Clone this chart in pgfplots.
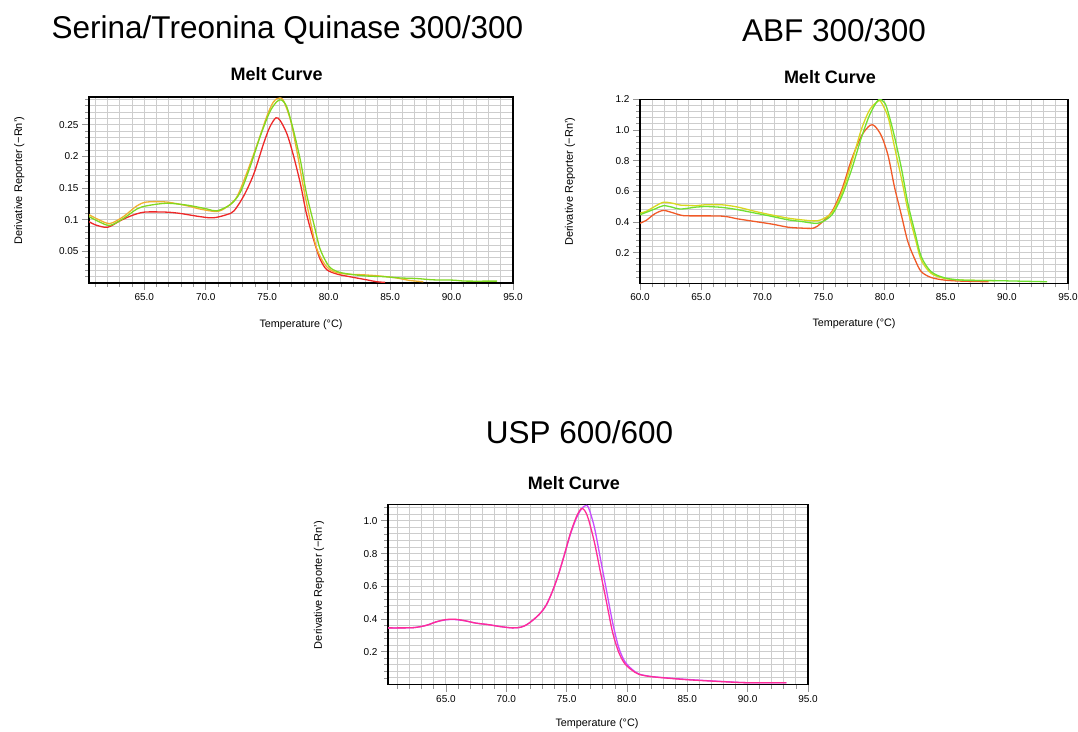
\documentclass[border=0pt]{standalone}
\usepackage{fontspec}
\setmainfont{Liberation Sans}
\usepackage{pgfplots}
\pgfplotsset{compat=1.18}

\definecolor{gridc}{RGB}{205,205,205}
\definecolor{tickc}{RGB}{150,150,150}
\definecolor{mRed}{RGB}{238,40,40}
\definecolor{mOrange}{RGB}{240,178,48}
\definecolor{mGreen}{RGB}{128,216,32}
\definecolor{aRed}{RGB}{240,90,40}
\definecolor{aYellow}{RGB}{216,216,32}
\definecolor{aGreen}{RGB}{112,224,48}
\definecolor{uPink}{RGB}{255,45,150}
\definecolor{uViolet}{RGB}{200,76,255}

\pgfplotsset{
 meltaxis/.style={
  scale only axis, anchor=south west,
  axis line style={black,line width=1.2pt},
  grid=both,
  major grid style={gridc,line width=1pt},
  minor grid style={gridc,line width=1pt},
  tick align=outside, tick pos=left,
  major tick length=7pt, minor tick length=4pt,
  every tick/.style={tickc,line width=0.8pt},
  tick label style={font=\fontsize{10}{12}\selectfont},
  every axis plot/.append style={line width=1.3pt,smooth},
 },
}

\begin{document}
\begin{tikzpicture}
\path[use as bounding box] (0,0) rectangle (1078pt,731pt);

% Serina/Treonina Quinase
\begin{axis}[meltaxis,
 at={(89pt,448pt)},width=424pt,height=186pt,
 xmin=60.5,xmax=95,ymin=0,ymax=0.294,
 xtick={65,70,75,80,85,90,95},
 xticklabels={65.0,70.0,75.0,80.0,85.0,90.0,95.0},
 minor xtick={61,62,...,94},
 ytick={0.05,0.1,0.15,0.2,0.25},
 yticklabels={0.05,0.1,0.15,0.2,0.25},
 minor ytick={0.01,0.02,...,0.29},
]
\addplot[mRed] coordinates {
 (60.5,0.097) (61.0,0.092) (62.0,0.088) (63.0,0.098) (63.9,0.106) (65.0,0.112)
 (66.8,0.112) (67.9,0.110) (69.5,0.105) (70.6,0.103) (71.7,0.108) (72.3,0.114)
 (73.1,0.138) (73.9,0.172) (74.7,0.220) (75.2,0.246) (75.7,0.261) (76.05,0.257)
 (76.6,0.236) (77.1,0.204) (77.7,0.157) (78.2,0.109) (78.8,0.067) (79.3,0.038)
 (79.85,0.021) (80.7,0.014) (81.7,0.010) (83.1,0.005) (83.9,0.002) (84.6,0.001)
};
\addplot[mOrange] coordinates {
 (60.5,0.108) (61.3,0.100) (62.2,0.094) (63.3,0.105) (64.4,0.122) (65.2,0.128)
 (66.8,0.128) (68.5,0.122) (69.5,0.117) (70.9,0.113) (71.7,0.120) (72.5,0.135)
 (73.3,0.172) (74.2,0.220) (75.0,0.265) (75.5,0.286) (75.9,0.292) (76.3,0.289)
 (76.9,0.257) (77.4,0.210) (77.95,0.151) (78.5,0.099) (79.0,0.056) (79.7,0.029)
 (80.4,0.018) (81.5,0.014) (82.8,0.013) (84.2,0.011) (85.5,0.008) (86.6,0.004)
 (87.7,0.002)
};
\addplot[mGreen] coordinates {
 (60.5,0.105) (61.3,0.097) (62.2,0.091) (63.3,0.102) (64.4,0.117) (65.2,0.122)
 (66.8,0.126) (68.5,0.123) (70.1,0.117) (70.9,0.114) (72.0,0.124) (72.8,0.143)
 (73.6,0.183) (74.4,0.230) (75.2,0.270) (75.8,0.287) (76.2,0.289) (76.6,0.278)
 (77.1,0.244) (77.7,0.194) (78.2,0.141) (78.8,0.093) (79.3,0.054) (80.0,0.027)
 (80.7,0.018) (81.7,0.014) (83.1,0.011) (84.5,0.010) (85.8,0.008) (87.2,0.007)
 (88.5,0.005) (90.1,0.0045) (91.2,0.003) (93.7,0.003)
};
\end{axis}

% ABF
\begin{axis}[meltaxis,
 at={(640pt,447.7pt)},width=428pt,height=184pt,
 xmin=60,xmax=95,ymin=0,ymax=1.2,
 xtick={60,65,70,75,80,85,90,95},
 xticklabels={60.0,65.0,70.0,75.0,80.0,85.0,90.0,95.0},
 minor xtick={61,62,...,94},
 ytick={0.2,0.4,0.6,0.8,1.0,1.2},
 yticklabels={0.2,0.4,0.6,0.8,1.0,1.2},
 minor ytick={0.04,0.08,...,1.17},
]
\addplot[aRed] coordinates {
 (60.0,0.392) (60.5,0.410) (61.2,0.453) (61.9,0.475) (62.6,0.462) (63.3,0.445)
 (63.9,0.440) (66.7,0.438) (68.0,0.420) (69.4,0.403) (70.8,0.386) (72.1,0.366)
 (73.2,0.360) (74.2,0.360) (74.8,0.392) (75.7,0.469) (76.5,0.610) (77.3,0.807)
 (78.1,0.960) (78.8,1.030) (79.2,1.025) (79.75,0.960) (80.3,0.829) (80.8,0.632)
 (81.4,0.436) (81.9,0.272) (82.5,0.152) (83.0,0.076) (83.8,0.038) (84.9,0.021)
 (86.3,0.014) (88.5,0.010)
};
\addplot[aYellow] coordinates {
 (60.0,0.458) (60.5,0.469) (61.2,0.501) (61.9,0.528) (62.6,0.523) (63.3,0.510)
 (63.9,0.508) (64.6,0.506) (65.3,0.512) (66.7,0.512) (68.0,0.497) (69.4,0.469)
 (70.8,0.445) (72.1,0.425) (73.2,0.414) (74.2,0.407) (74.8,0.414) (75.7,0.462)
 (76.5,0.589) (77.3,0.785) (78.1,1.003) (78.8,1.134) (79.5,1.189) (79.75,1.178)
 (80.3,1.080) (80.8,0.894) (81.4,0.676) (81.9,0.480) (82.5,0.294) (83.0,0.152)
 (83.8,0.065) (84.9,0.032) (86.3,0.021) (89.0,0.017)
};
\addplot[aGreen] coordinates {
 (60.0,0.447) (61.2,0.484) (61.9,0.506) (62.6,0.497) (63.3,0.484) (64.6,0.497)
 (65.3,0.501) (66.7,0.495) (68.0,0.480) (69.4,0.458) (70.8,0.436) (72.1,0.414)
 (73.2,0.403) (74.2,0.392) (74.8,0.397) (75.7,0.447) (76.5,0.567) (77.3,0.741)
 (78.1,0.949) (78.8,1.102) (79.5,1.196) (80.0,1.178) (80.3,1.113) (80.8,0.960)
 (81.4,0.741) (81.9,0.523) (82.5,0.327) (83.0,0.174) (83.8,0.076) (84.9,0.036)
 (86.3,0.021) (89.3,0.017) (93.3,0.010)
};
\end{axis}

% USP
\begin{axis}[meltaxis,
 at={(388pt,46.5pt)},width=420pt,height=180pt,
 xmin=60.2,xmax=95,ymin=0,ymax=1.1,
 xtick={65,70,75,80,85,90,95},
 xticklabels={65.0,70.0,75.0,80.0,85.0,90.0,95.0},
 minor xtick={61,62,...,94},
 ytick={0.2,0.4,0.6,0.8,1.0},
 yticklabels={0.2,0.4,0.6,0.8,1.0},
 minor ytick={0.04,0.08,...,1.09},
]
\addplot[uViolet] coordinates {
 (60.2,0.346) (61.2,0.346) (62.4,0.348) (63.4,0.362) (64.2,0.383) (65.0,0.395)
 (65.7,0.397) (66.5,0.390) (67.5,0.375) (68.5,0.366) (69.5,0.354) (70.5,0.346)
 (71.2,0.350) (71.7,0.366) (72.2,0.393) (72.8,0.434) (73.3,0.484) (73.8,0.565)
 (74.3,0.667) (74.8,0.789) (75.3,0.915) (75.8,1.015) (76.2,1.070) (76.5,1.091)
 (76.8,1.083) (77.3,0.961) (77.8,0.769) (78.3,0.576) (78.8,0.383) (79.3,0.230)
 (79.8,0.143) (80.4,0.094) (81.0,0.064) (82.0,0.049) (83.5,0.039) (85.0,0.031)
 (86.5,0.024) (88.0,0.018) (90.0,0.011) (93.2,0.011)
};
\addplot[uPink] coordinates {
 (60.2,0.346) (61.2,0.346) (62.4,0.348) (63.4,0.362) (64.2,0.383) (65.0,0.397)
 (65.7,0.399) (66.5,0.391) (67.5,0.375) (68.5,0.366) (69.5,0.354) (70.5,0.346)
 (71.2,0.350) (71.7,0.366) (72.2,0.393) (72.8,0.434) (73.3,0.484) (73.8,0.565)
 (74.3,0.667) (74.8,0.789) (75.3,0.921) (75.8,1.023) (76.2,1.074) (76.5,1.063)
 (76.8,1.012) (77.3,0.870) (77.8,0.687) (78.3,0.505) (78.8,0.322) (79.3,0.200)
 (79.8,0.129) (80.4,0.088) (81.0,0.062) (82.0,0.048) (83.5,0.038) (85.0,0.029)
 (86.5,0.023) (88.0,0.017) (90.0,0.011) (93.2,0.011)
};
\end{axis}

% titles and labels
\node[font=\fontsize{31.5}{36}\selectfont] at (287.5pt,701pt) {Serina/Treonina Quinase 300/300};
\node[font=\fontsize{31.5}{36}\selectfont] at (834pt,701pt) {ABF 300/300};
\node[font=\fontsize{31.5}{36}\selectfont] at (579.5pt,299pt) {USP 600/600};

\node[font=\fontsize{18}{21}\selectfont\bfseries] at (276.7pt,657pt) {Melt Curve};
\node[font=\fontsize{18}{21}\selectfont\bfseries] at (830pt,654.3pt) {Melt Curve};
\node[font=\fontsize{18}{21}\selectfont\bfseries] at (574pt,247.7pt) {Melt Curve};

\node[rotate=90,font=\fontsize{11}{13}\selectfont] at (19.3pt,550.2pt) {Derivative Reporter (−Rn')};
\node[rotate=90,font=\fontsize{11}{13}\selectfont] at (570pt,549.3pt) {Derivative Reporter (−Rn')};
\node[rotate=90,font=\fontsize{11}{13}\selectfont] at (319pt,146pt) {Derivative Reporter (−Rn')};

\node[font=\fontsize{10.8}{13}\selectfont] at (301pt,406pt) {Temperature (°C)};
\node[font=\fontsize{10.8}{13}\selectfont] at (854pt,407.7pt) {Temperature (°C)};
\node[font=\fontsize{10.8}{13}\selectfont,inner sep=1pt] at (597pt,7.7pt) {Temperature (°C)};
\end{tikzpicture}
\end{document}
